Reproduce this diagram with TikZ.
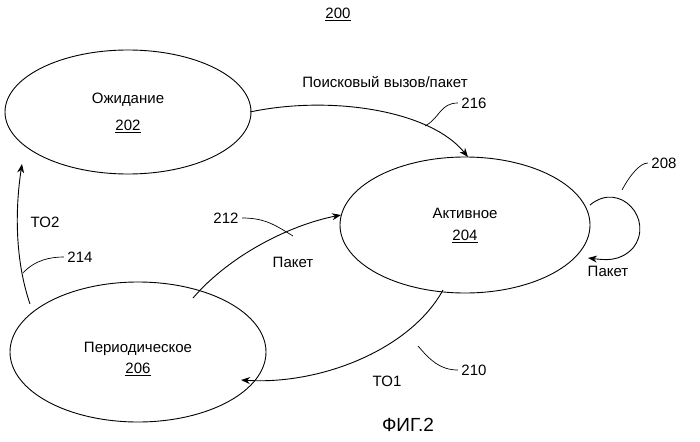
\documentclass[tikz,border=0pt]{standalone}
\usepackage{fontspec}
\setmainfont{Liberation Sans}
\usetikzlibrary{arrows.meta,shapes.geometric}
\begin{document}
\begin{tikzpicture}[x=1pt,y=-1pt,
  st/.style={draw,ellipse,line width=0.9pt},
  arr/.style={draw,line width=0.9pt,-{Stealth[length=9pt,width=7pt]}},
  lead/.style={draw,line width=0.7pt},
  lbl/.style={font=\fontsize{15}{17}\selectfont},
  num/.style={font=\fontsize{15}{17}\selectfont}]
\useasboundingbox (0,0) rectangle (700,441);
\node[st,minimum width=246pt,minimum height=124pt] (w) at (128,112) {};
\node[lbl] at (128,100) {Ожидание};
\node[num] at (128,126) {\underline{202}};
\node[st,minimum width=250pt,minimum height=136pt] (a) at (465,225) {};
\node[lbl] at (465,213) {Активное};
\node[num] at (465,236) {\underline{204}};
\node[st,minimum width=256pt,minimum height=140pt] (p) at (138,352) {};
\node[lbl] at (138,349) {Периодическое};
\node[num] at (138,369) {\underline{206}};
\node[num] at (338,14) {\underline{200}};
\node[font=\fontsize{19}{21}\selectfont] (fig) at (408,425) {ФИГ.2};
% Waiting -> Active
\coordinate (w1) at (250,112); \coordinate (a1) at (468,157);
\draw[arr] (w1) .. controls (330,95) and (430,110) .. (a1);
\node[lbl] (l216) at (385,82) {Поисковый вызов/пакет};
\node[num] (n216) at (474,103) {216};
\draw[lead] (n216.west) .. controls (440,103) and (440,118) .. (425,126);
% Periodic -> Active
\coordinate (p1) at (193,298); \coordinate (a2) at (341,215);
\draw[arr] (p1) .. controls (230,255) and (290,225) .. (a2);
\node[lbl] (l212) at (293,262) {Пакет};
\node[num] (n212) at (226,218) {212};
\draw[lead] (n212.east) .. controls (265,218) and (275,225) .. (293,236);
% Active -> Periodic
\coordinate (a3) at (443,290); \coordinate (p2) at (241,380);
\draw[arr] (a3) .. controls (410,350) and (320,385) .. (p2);
\node[lbl] (l210) at (387,381) {TO1};
\node[num] (n210) at (474,370) {210};
\draw[lead] (n210.west) .. controls (440,370) and (430,360) .. (418,346);
% Periodic -> Waiting
\coordinate (p3) at (30,304); \coordinate (w2) at (22,164);
\draw[arr] (p3) .. controls (15,260) and (15,210) .. (w2);
\node[lbl] (l214) at (45,222) {TO2};
\node[num] (n214) at (80,257) {214};
\draw[lead] (n214.west) .. controls (50,257) and (35,260) .. (23,273);
% Self loop
\coordinate (s1) at (590,205); \coordinate (s2) at (588,258);
\draw[arr] (s1) .. controls (620,180) and (655,220) .. (633,248) .. controls (620,262) and (605,260) .. (s2);
\node[lbl] (l208) at (608,271) {Пакет};
\node[num] (n208) at (664,163) {208};
\draw[lead] (n208.west) .. controls (640,163) and (630,175) .. (622,190);
\end{tikzpicture}
\end{document}
